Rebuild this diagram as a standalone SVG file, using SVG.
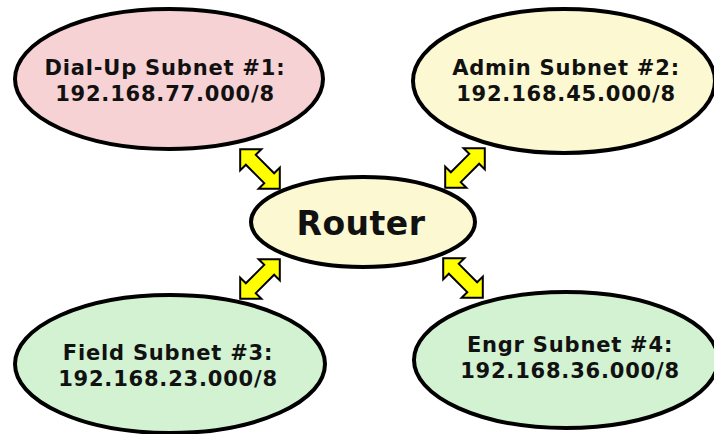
<svg xmlns="http://www.w3.org/2000/svg" width="714" height="434" viewBox="0 0 714 434">
<defs>
<style>
.node{stroke:#000;stroke-width:4}
.pink{fill:#f7d2d4}
.cream{fill:#fbf8d2}
.green{fill:#d2f2d2}
.lbl{font-family:"DejaVu Sans","Verdana",sans-serif;font-weight:bold;font-size:21px;letter-spacing:0.8px;fill:#111;text-anchor:middle}
.big{font-size:33px;letter-spacing:0.5px}
.arr{fill:#ffff00;stroke:#000;stroke-width:2;stroke-linejoin:miter}
</style>
<path id="dbl" d="M-28,0 L-13,-15 L-13,-7 L13,-7 L13,-15 L28,0 L13,15 L13,7 L-13,7 L-13,15 Z"/>
</defs>
<rect width="714" height="434" fill="#fff"/>
<g id="connectors">
<use href="#dbl" class="arr" transform="translate(260,169) rotate(45)"/>
<use href="#dbl" class="arr" transform="translate(465,168) rotate(-45)"/>
<use href="#dbl" class="arr" transform="translate(260,279) rotate(-45)"/>
<use href="#dbl" class="arr" transform="translate(463,278) rotate(45)"/>
</g>
<g id="dialup">
<ellipse class="node pink" cx="169" cy="79" rx="154" ry="70"/>
<text class="lbl" x="165" y="75">Dial-Up Subnet #1:</text>
<text class="lbl" x="165" y="101">192.168.77.000/8</text>
</g>
<g id="admin">
<ellipse class="node cream" cx="564" cy="81" rx="151" ry="72"/>
<text class="lbl" x="566" y="75">Admin Subnet #2:</text>
<text class="lbl" x="566" y="101">192.168.45.000/8</text>
</g>
<g id="router">
<ellipse class="node cream" cx="363" cy="222" rx="112" ry="45"/>
<text class="lbl big" x="361" y="235">Router</text>
</g>
<g id="field">
<ellipse class="node green" cx="170" cy="364" rx="155" ry="69"/>
<text class="lbl" x="168" y="360">Field Subnet #3:</text>
<text class="lbl" x="168" y="386">192.168.23.000/8</text>
</g>
<g id="engr">
<ellipse class="node green" cx="566" cy="360" rx="152" ry="68"/>
<text class="lbl" x="570" y="352">Engr Subnet #4:</text>
<text class="lbl" x="570" y="378">192.168.36.000/8</text>
</g>
</svg>
